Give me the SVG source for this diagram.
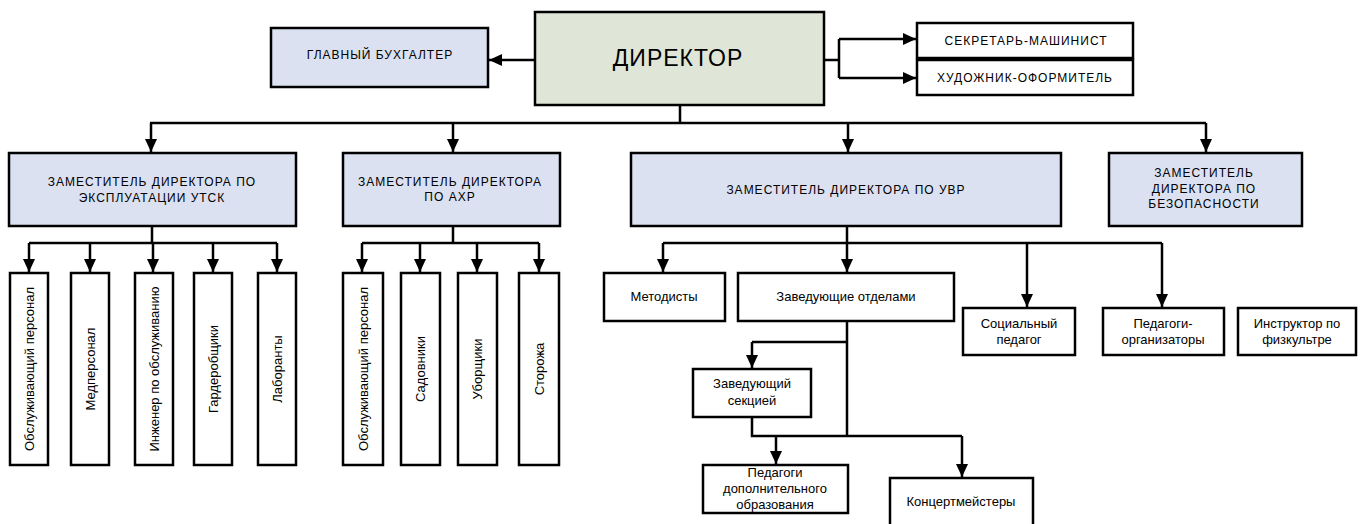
<svg xmlns="http://www.w3.org/2000/svg" width="1367" height="524" viewBox="0 0 1367 524">
<defs>
<marker id="ah" markerUnits="userSpaceOnUse" markerWidth="13" markerHeight="12" refX="13" refY="6" orient="auto">
<path d="M0,0 L13,6 L0,12 z" fill="#000"/>
</marker>
</defs>
<style>
.b{fill:#fff;stroke:#000;stroke-width:2.5}
.g{fill:#dfe6d8;stroke:#000;stroke-width:2.5}
.l{fill:#dbe1f0;stroke:#000;stroke-width:2.5}
text{font-family:"Liberation Sans",Arial,sans-serif;fill:#000;text-anchor:middle}
.s{font-size:12px;letter-spacing:1px}
.m{font-size:13px}
.c{fill:none;stroke:#000;stroke-width:2.5}
.a{fill:none;stroke:#000;stroke-width:2.5;marker-end:url(#ah)}
</style>
<rect width="1367" height="524" fill="#fff"/>
<g id="connectors">
<path class="a" d="M535,60 H489"/>
<path class="c" d="M824,60 H839 M839,39 V78"/>
<path class="a" d="M839,39 H916"/>
<path class="a" d="M839,78 H916"/>
<path class="c" d="M680,105 V123 M150,123 H1206"/>
<path class="a" d="M151,123 V152"/>
<path class="a" d="M453,123 V152"/>
<path class="a" d="M848,123 V152"/>
<path class="a" d="M1206,123 V152"/>
<path class="c" d="M152,226 V243 M29,243 H277"/>
<path class="a" d="M29,243 V272"/>
<path class="a" d="M90,243 V272"/>
<path class="a" d="M153,243 V272"/>
<path class="a" d="M213,243 V272"/>
<path class="a" d="M277,243 V272"/>
<path class="c" d="M453,226 V243 M362,243 H539"/>
<path class="a" d="M362,243 V272"/>
<path class="a" d="M420,243 V272"/>
<path class="a" d="M477,243 V272"/>
<path class="a" d="M539,243 V272"/>
<path class="c" d="M663,243 H1162"/>
<path class="a" d="M663,243 V272"/>
<path class="a" d="M847,226 V272"/>
<path class="a" d="M1027,243 V307"/>
<path class="a" d="M1162,243 V307"/>
<path class="c" d="M847,321 V436 M847,342 H752"/>
<path class="a" d="M752,342 V368"/>
<path class="c" d="M752,417 V436 H962"/>
<path class="a" d="M776,436 V464"/>
<path class="a" d="M962,436 V477"/>
</g>
<g id="director"><rect class="g" x="535" y="12" width="289" height="93"/><text x="678" y="66" font-size="23" letter-spacing="1">ДИРЕКТОР</text></g>
<g id="accountant"><rect class="l" x="271" y="28" width="217" height="59"/><text class="s" x="380" y="59">ГЛАВНЫЙ БУХГАЛТЕР</text></g>
<g id="secretary"><rect class="b" x="917" y="23" width="216" height="35"/><text class="s" x="1026" y="45">СЕКРЕТАРЬ-МАШИНИСТ</text></g>
<g id="artist"><rect class="b" x="917" y="60" width="216" height="35"/><text class="s" x="1025" y="82">ХУДОЖНИК-ОФОРМИТЕЛЬ</text></g>
<g id="dep1"><rect class="l" x="9" y="153" width="287" height="73"/><text class="s" x="152" y="186">ЗАМЕСТИТЕЛЬ ДИРЕКТОРА ПО</text><text class="s" x="152" y="202">ЭКСПЛУАТАЦИИ УТСК</text></g>
<g id="dep2"><rect class="l" x="343" y="153" width="217" height="73"/><text class="s" x="450" y="186">ЗАМЕСТИТЕЛЬ ДИРЕКТОРА</text><text class="s" x="450" y="201">ПО АХР</text></g>
<g id="dep3"><rect class="l" x="631" y="153" width="430" height="73"/><text class="s" x="846" y="194">ЗАМЕСТИТЕЛЬ ДИРЕКТОРА ПО УВР</text></g>
<g id="dep4"><rect class="l" x="1109" y="153" width="193" height="73"/><text class="s" x="1204" y="177">ЗАМЕСТИТЕЛЬ</text><text class="s" x="1204" y="193">ДИРЕКТОРА ПО</text><text class="s" x="1204" y="208">БЕЗОПАСНОСТИ</text></g>
<g id="d1c1"><rect class="b" x="10" y="273" width="38" height="192"/><text class="m" transform="translate(34,369) rotate(-90)">Обслуживающий персонал</text></g>
<g id="d1c2"><rect class="b" x="71" y="273" width="38" height="192"/><text class="m" transform="translate(95,369) rotate(-90)">Медперсонал</text></g>
<g id="d1c3"><rect class="b" x="135" y="273" width="38" height="192"/><text class="m" transform="translate(159,369) rotate(-90)">Инженер  по обслуживанию</text></g>
<g id="d1c4"><rect class="b" x="194" y="273" width="38" height="192"/><text class="m" transform="translate(218,369) rotate(-90)">Гардеробщики</text></g>
<g id="d1c5"><rect class="b" x="258" y="273" width="38" height="192"/><text class="m" transform="translate(282,369) rotate(-90)">Лаборанты</text></g>
<g id="d2c1"><rect class="b" x="343" y="273" width="40" height="192"/><text class="m" transform="translate(368,369) rotate(-90)">Обслуживающий персонал</text></g>
<g id="d2c2"><rect class="b" x="401" y="273" width="39" height="192"/><text class="m" transform="translate(425,369) rotate(-90)">Садовники</text></g>
<g id="d2c3"><rect class="b" x="458" y="273" width="39" height="192"/><text class="m" transform="translate(482,369) rotate(-90)">Уборщики</text></g>
<g id="d2c4"><rect class="b" x="519" y="273" width="40" height="192"/><text class="m" transform="translate(544,369) rotate(-90)">Сторожа</text></g>
<g id="methodists"><rect class="b" x="604" y="273" width="121" height="48"/><text class="m" x="664" y="301">Методисты</text></g>
<g id="heads"><rect class="b" x="738" y="273" width="216" height="48"/><text class="m" x="846" y="301">Заведующие отделами</text></g>
<g id="social"><rect class="b" x="963" y="308" width="112" height="47"/><text class="m" x="1019" y="328">Социальный</text><text class="m" x="1019" y="344">педагог</text></g>
<g id="organizers"><rect class="b" x="1103" y="308" width="121" height="47"/><text class="m" x="1163" y="328">Педагоги-</text><text class="m" x="1163" y="344">организаторы</text></g>
<g id="instructor"><rect class="b" x="1238" y="308" width="118" height="47"/><text class="m" x="1297" y="328">Инструктор по</text><text class="m" x="1297" y="344">физкультре</text></g>
<g id="section"><rect class="b" x="693" y="369" width="118" height="48"/><text class="m" x="752" y="388">Заведующий</text><text class="m" x="752" y="405">секцией</text></g>
<g id="teachers"><rect class="b" x="703" y="465" width="145" height="48"/><text class="m" x="775" y="477">Педагоги</text><text class="m" x="775" y="493">дополнительного</text><text class="m" x="775" y="509">образования</text></g>
<g id="accomp"><rect class="b" x="890" y="478" width="143" height="60"/><text class="m" x="961" y="506">Концертмейстеры</text></g>
</svg>
